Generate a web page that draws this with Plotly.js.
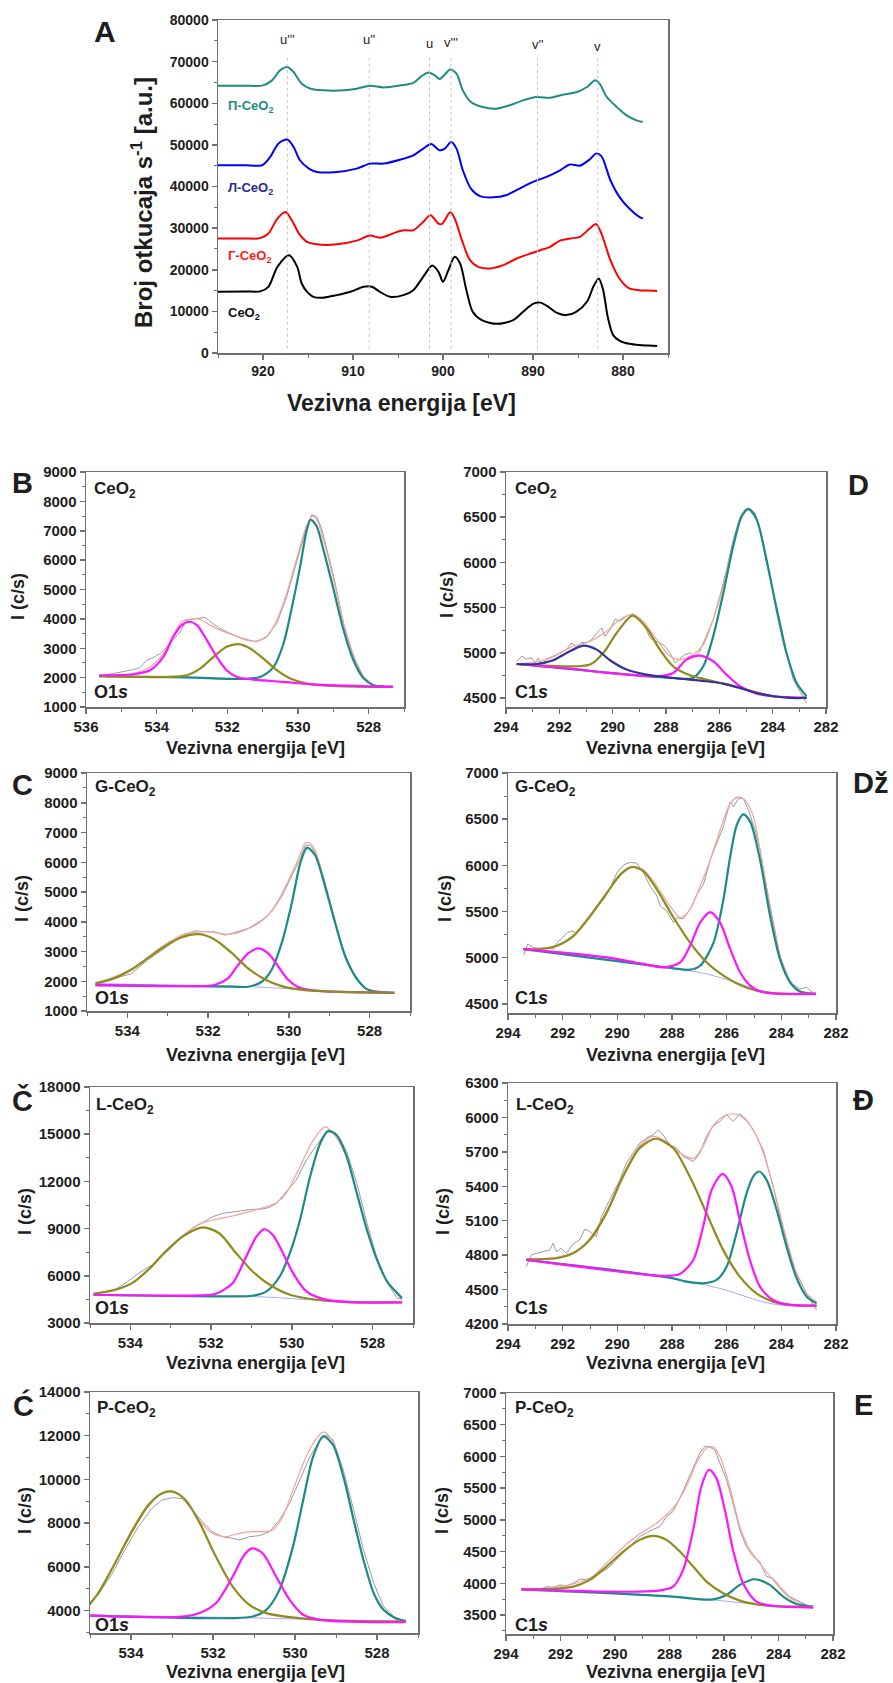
<!DOCTYPE html>
<html><head><meta charset="utf-8">
<script src="https://cdn.plot.ly/plotly-3.0.1.min.js"></script>
<style>html,body{margin:0;padding:0;background:#fff}#chart{width:893px;height:1683px}</style>
</head><body><div id="chart"></div>
<script>
// ---------- Panel A: Ce3d survey ----------
const aE_ceo2=[925,922,920.3,919.4,918.4,917.1,916.2,915.7,915.1,914.4,913.3,911.8,910.3,908.8,907.9,907,905.9,904.4,903.3,902.2,901.2,900.5,900,899.4,898.7,898.1,897.4,896.7,895.7,894,892.2,891.1,890,889.2,888.3,887.4,886.3,885.2,884,883.3,882.7,882.2,881.7,881.1,880.4,879.3,878.2,877.2,876.2];
const aI_ceo2=[14700,14800,14800,15900,20700,23500,20700,16700,14700,13500,13300,13900,14700,15900,15900,14700,13500,13900,15100,18300,21000,19500,17100,19900,23100,21500,15100,9900,7900,7000,7900,9900,11800,12100,11100,9700,9100,9900,12300,15900,17900,15100,8700,4300,3000,2200,1900,1800,1700];
const aE_g=[925,922,920.3,919.4,918.4,917.5,916.8,916,915.1,914,911.8,909.6,908.1,907,905.1,904.4,903.3,902.2,901.4,900.5,900.1,899.2,898.7,897.9,897,896.1,894.8,893.3,891.8,890.3,889.2,888.1,887,885.9,884.8,883.7,883,882.4,881.4,880.4,879.3,878.2,877.2,876.2];
const aI_g=[27500,27500,27600,28700,32300,33900,31900,28700,26700,26100,26100,27000,28200,27700,29100,29500,29500,31500,33100,31100,31000,33800,32300,27100,22300,20700,20300,21100,22700,23900,24700,25500,27000,27500,27900,29900,31000,28700,22300,17900,15500,15100,15000,14900];
const aE_l=[925,922,920.1,919.2,918.3,917.3,916.6,915.9,914.9,914,911.8,909.6,908.1,906.6,904.7,903.3,902.2,901.3,900.4,899.8,899.1,898.5,897.8,896.9,895.9,894.4,893,891.5,890,888.5,887,885.9,884.8,883.7,883,882.4,881.4,880.4,879.3,878.2,877.8];
const aI_l=[45100,45100,45100,47100,50300,51300,49500,46300,44300,43500,43500,44300,45500,45500,46500,47500,49100,50200,48700,49100,50700,49100,43900,39500,37700,37400,37900,39500,41100,42300,43900,45300,45000,46500,47900,47300,41500,37500,34700,32700,32300];
const aE_p=[925,922,920,919,918.1,917.3,916.6,915.7,914.7,913.3,911,909.6,908.1,906.6,904.7,903.3,902.4,901.6,900.9,900.4,899.8,899.2,898.5,897.8,896.9,895.6,894.1,892.6,891.1,889.6,888.1,886.6,885.1,884,883.1,882.6,881.8,880.7,879.6,878.5,877.8];
const aI_p=[64200,64200,64300,65500,67900,68700,67500,64700,63500,63100,63100,63500,64200,63800,64300,64900,66500,67400,66700,65800,66900,68100,67100,63100,60300,59100,58700,59500,60700,61500,61300,62100,62700,63900,65500,64700,61500,59100,57100,55900,55500];
const peakE=[917.3,908.2,901.5,899.1,889.5,882.8];
const peakLabels=["u'''","u''","u","v'''","v''","v"];
const peakLabelY=[75200,75400,74400,74550,74000,73600];
const peakLineY=[1000,71700];
const seriesNames=["П-CeO<sub>2</sub>","Л-CeO<sub>2</sub>","Г-CeO<sub>2</sub>","CeO<sub>2</sub>"];
const seriesLabelE=[924.1,924.1,924.1,924.1];
const seriesLabelY=[59200,39600,23100,9500];

// ---------- B: O1s CeO2 ----------
const bRawE=[535.63,535.23,534.94,534.66,534.47,534.28,534.09,533.9,533.71,533.53,533.34,533.15,532.96,532.77,532.63,532.53,532.39,532.2,531.92,531.64,531.35,531.21,531.07,530.88,530.79,530.6,530.32,530.13,529.94,529.75,529.61,529.47,529.32,529.18,528.99,528.71,528.43,528.14,527.86,527.31];
const bRawI=[2047,2138,2229,2274,2343,2593,2684,2821,3048,3276,3560,3959,3993,4016,4050,3959,3822,3674,3503,3367,3276,3219,3276,3412,3560,3845,4755,5552,6348,7145,7543,7486,7031,6348,5438,3845,2707,2024,1740,1683];
const bEnvE=[535.63,534.66,534.19,533.81,533.53,533.29,533.05,532.77,532.49,532.2,531.83,531.45,531.17,530.88,530.6,530.32,530.13,529.94,529.75,529.61,529.47,529.28,528.99,528.71,528.43,528.14,527.86,527.31];
const bEnvI=[2070,2138,2366,2821,3446,3902,3993,3980,3788,3617,3446,3276,3253,3390,3959,4869,5666,6462,7202,7486,7373,6690,5324,3845,2764,2024,1740,1683];
const bBgE=[535.63,533.2,531.83,530.88,529.94,528.99,528.05,527.31];
const bBgI=[2058,2024,1967,1910,1796,1706,1683,1683];
const bTealE=[535.63,533.2,531.54,531.07,530.69,530.41,530.13,529.94,529.75,529.64,529.47,529.28,528.99,528.71,528.43,528.14,527.86,527.31];
const bTealI=[2047,2010,1956,2024,2366,3162,4641,5780,7031,7373,7145,6349,4983,3617,2593,1967,1740,1683];
const bOliveE=[535.63,533.71,533.15,532.77,532.39,532.02,531.68,531.35,530.98,530.6,530.22,529.75,528.99,527.31];
const bOliveI=[2047,2024,2081,2309,2707,3048,3140,2991,2650,2252,1967,1796,1717,1683];
const bMagE=[535.63,534.66,534.19,533.81,533.53,533.29,533.07,532.86,532.58,532.3,532.02,531.73,531.26,530.41,529.47,527.31];
const bMagI=[2081,2115,2252,2707,3390,3788,3902,3788,3276,2707,2252,2024,1933,1853,1762,1683];

// ---------- D: C1s CeO2 ----------
const dRawE=[293.6,293.41,293.23,293.04,292.91,292.79,292.66,292.48,292.23,291.98,291.73,291.54,291.35,291.16,290.98,290.79,290.6,290.41,290.29,290.1,289.91,289.73,289.48,289.23,288.98,288.79,288.6,288.41,288.23,288.04,287.85,287.66,287.48,287.29,287.1,286.91,286.73,286.48,286.23,285.98,285.73,285.48,285.23,285.04,284.85,284.66,284.48,284.23,283.98,283.73,283.48,283.23,282.98,282.73];
const dRawI=[4906,4961,4932,4943,4887,4943,4869,4924,4954,4998,5035,5109,5064,5116,5109,5146,5219,5274,5182,5256,5374,5348,5404,5433,5367,5293,5164,5127,5109,5072,4998,4887,4932,4980,4998,4954,5016,5182,5367,5625,5920,6252,6491,6583,6591,6547,6362,5993,5662,5367,4998,4703,4574,4445];
const dEnvE=[293.6,292.73,292.1,291.48,290.85,290.23,289.73,289.25,288.85,288.35,287.85,287.48,286.98,286.6,286.23,285.85,285.48,285.16,284.91,284.6,284.23,283.85,283.48,283.1,282.73];
const dEnvI=[4876,4906,4980,5072,5127,5238,5367,5422,5348,5146,4961,4924,4980,5090,5367,5735,6215,6528,6602,6491,6030,5477,4998,4666,4519];
const dBgE=[293.6,291.48,290.23,288.98,287.73,286.48,285.85,285.23,284.6,283.98,283.35,282.73];
const dBgI=[4876,4821,4777,4747,4721,4685,4659,4611,4555,4519,4500,4500];
const dTealE=[293.6,288.98,287.73,287.23,286.98,286.6,286.23,285.85,285.48,285.16,284.91,284.6,284.23,283.85,283.48,283.1,282.73];
const dTealI=[4876,4747,4721,4712,4721,4850,5182,5662,6178,6510,6590,6473,6030,5477,4998,4666,4519];
const dOliveE=[293.6,291.48,290.85,290.35,289.85,289.25,288.73,288.23,287.73,287.1,286.48,285.23,283.98,282.73];
const dOliveI=[4876,4850,4869,4998,5219,5411,5274,5035,4850,4751,4703,4611,4519,4500];
const dMagE=[293.6,291.48,290.23,288.98,288.35,287.73,287.23,286.73,286.23,285.73,285.23,284.6,283.98,282.73];
const dMagI=[4876,4821,4777,4747,4740,4777,4924,4968,4906,4758,4629,4548,4519,4500];
const dNavyE=[293.6,292.85,292.23,291.73,291.1,290.6,290.1,289.48,288.73,287.73,286.48,285.85,285.23,284.6,283.98,283.35,282.73];
const dNavyI=[4876,4876,4917,4998,5079,5035,4917,4814,4758,4721,4685,4659,4611,4555,4519,4500,4500];

// ---------- C: O1s G-CeO2 ----------
const cRawE=[534.79,534.33,533.92,533.5,533.09,532.67,532.34,532.09,531.84,531.59,531.42,531.26,531.01,530.67,530.43,530.18,529.93,529.72,529.59,529.47,529.35,529.1,528.85,528.6,528.35,528.1,527.39];
const cRawI=[1950,2096,2241,2711,3103,3494,3696,3662,3662,3551,3606,3662,3774,4054,4334,4837,5509,6124,6572,6572,6348,5285,3942,2823,2096,1727,1592];
const cEnvE=[534.79,533.92,533.09,532.59,532.25,531.92,531.59,531.42,531.09,530.76,530.51,530.26,530.01,529.76,529.59,529.47,529.35,529.1,528.85,528.6,528.35,528.1,527.39];
const cEnvI=[1928,2398,3215,3584,3662,3662,3584,3584,3718,3942,4222,4726,5397,6124,6650,6628,6404,5285,3998,2846,2152,1760,1614];
const cBgE=[534.79,533.09,531.42,530.59,529.76,528.93,528.1,527.39];
const cBgI=[1928,1872,1838,1794,1727,1648,1626,1614];
const cTealE=[534.79,531.42,531.01,530.67,530.43,530.18,529.93,529.72,529.55,529.35,529.1,528.85,528.6,528.35,528.1,527.77,527.39];
const cTealI=[1872,1816,1816,1984,2376,3271,4614,5956,6493,6236,5173,3942,2823,2152,1760,1626,1614];
const cOliveE=[534.79,534.33,533.92,533.5,533.09,532.67,532.21,531.84,531.42,531.01,530.59,530.18,529.76,528.93,527.39];
const cOliveI=[1928,2096,2376,2767,3159,3472,3584,3405,2957,2431,2062,1838,1727,1648,1614];
const cMagE=[534.79,532.25,531.84,531.51,531.26,531.01,530.76,530.51,530.26,530.01,529.76,529.35,527.39];
const cMagI=[1872,1838,1872,2096,2543,2935,3103,2935,2487,2040,1794,1682,1614];

// ---------- Dž: C1s G-CeO2 ----------
const dzRawE=[293.43,293.28,293.06,292.82,292.57,292.33,292.21,292.06,291.84,291.66,291.48,291.23,290.99,290.75,290.5,290.26,290.02,289.77,289.53,289.29,289.04,288.8,288.55,288.43,288.19,287.94,287.82,287.58,287.34,287.09,286.85,286.6,286.36,286.12,285.87,285.75,285.57,285.39,285.2,284.96,284.78,284.41,284.05,283.68,283.32,283.07,282.73];
const dzRawI=[5027,5145,5110,5099,5110,5092,5163,5199,5271,5289,5264,5379,5443,5558,5630,5755,5917,6006,6031,6024,5917,5773,5666,5558,5504,5379,5432,5422,5522,5684,5791,6060,6240,6419,6688,6634,6724,6724,6598,6383,6168,5558,5020,4733,4661,4679,4589];
const dzEnvE=[293.43,292.21,291.6,290.99,290.38,289.89,289.47,289.04,288.55,288.07,287.7,287.34,286.97,286.6,286.24,285.87,285.57,285.33,285.02,284.78,284.41,284.05,283.68,283.32,282.73];
const dzEnvI=[5092,5128,5242,5468,5709,5910,5988,5953,5773,5558,5432,5522,5773,6060,6383,6670,6742,6706,6527,6168,5522,5020,4751,4643,4607];
const dzBgE=[293.43,291.6,290.38,289.16,287.94,286.73,285.75,284.9,284.29,282.73];
const dzBgI=[5092,5049,5002,4937,4884,4823,4740,4654,4615,4607];
const dzTealE=[293.43,289.16,287.94,287.34,286.97,286.48,286.12,285.87,285.63,285.39,285.14,284.78,284.41,284.05,283.68,283.32,282.73];
const dzTealI=[5092,4930,4884,4869,4912,5163,5630,6096,6437,6552,6473,6060,5450,4984,4733,4633,4607];
const dzOliveE=[293.43,292.82,292.21,291.6,290.99,290.38,289.89,289.47,289.04,288.55,287.94,287.34,286.73,286.12,285.51,284.9,284.29,282.73];
const dzOliveI=[5092,5092,5128,5235,5450,5701,5899,5981,5935,5737,5432,5163,4948,4805,4704,4643,4615,4607];
const dzMagE=[293.43,290.38,289.16,288.31,287.7,287.34,286.97,286.6,286.24,285.87,285.51,285.14,284.66,282.73];
const dzMagI=[5092,5002,4937,4894,4948,5128,5379,5493,5379,5092,4841,4697,4625,4607];

// ---------- Č: O1s L-CeO2 ----------
const chRawE=[534.91,534.46,534.12,533.79,533.46,533.13,532.79,532.46,532.21,531.96,531.71,531.47,531.22,530.97,530.72,530.55,530.38,530.14,529.89,529.64,529.39,529.14,528.97,528.81,528.64,528.39,528.14,527.89,527.64,527.39,527.27];
const chRawI=[4857,5005,5533,6168,6696,7436,8280,9020,9379,9759,9971,10076,10140,10224,10245,10351,10605,11344,12084,13351,14302,15148,15084,14725,13880,11872,9337,7118,5533,4582,4477];
const chEnvE=[534.91,533.96,533.13,532.63,532.3,531.88,531.47,531.05,530.63,530.38,530.14,529.8,529.47,529.18,528.97,528.64,528.39,528.14,527.89,527.64,527.27];
const chEnvI=[4857,5533,7541,8703,9294,9590,9801,10076,10393,10647,11238,12929,14619,15464,15042,13563,11238,8914,7012,5639,4477];
const chBgE=[534.91,533.13,531.47,530.63,529.8,528.97,528.14,527.27];
const chBgI=[4796,4752,4689,4646,4519,4371,4307,4307];
const chTealE=[534.91,531.47,530.97,530.63,530.3,530.05,529.8,529.55,529.3,529.1,528.89,528.64,528.39,528.14,527.89,527.64,527.39,527.27];
const chTealI=[4796,4689,4731,5005,5956,7436,9548,12295,14408,15211,14936,13563,11238,8914,7012,5639,4900,4582];
const chOliveE=[534.91,534.37,533.96,533.54,533.13,532.71,532.21,531.8,531.38,530.97,530.55,530.05,529.39,528.56,527.27];
const chOliveI=[4857,5111,5533,6421,7541,8491,9083,8703,7436,6273,5428,4796,4477,4329,4307];
const chMagE=[534.91,532.3,531.88,531.47,531.13,530.88,530.69,530.47,530.22,529.97,529.64,529.22,528.56,527.27];
const chMagI=[4796,4752,4857,5533,7224,8491,8956,8597,7436,6168,5005,4519,4329,4307];

// ---------- Đ: C1s L-CeO2 ----------
const djRawE=[293.33,293.15,292.96,292.72,292.47,292.35,292.23,292.05,291.86,291.62,291.38,291.19,291.01,290.77,290.58,290.4,290.15,289.91,289.67,289.42,289.18,288.93,288.69,288.51,288.33,288.08,287.83,287.59,287.22,286.98,286.74,286.51,286.25,286.0,285.76,285.52,285.27,284.97,284.66,284.3,283.93,283.56,283.2,282.95,282.71];
const djRawI=[4700,4802,4816,4831,4846,4904,4831,4860,4816,4898,4933,5026,5006,4962,5136,5224,5340,5456,5602,5689,5776,5820,5849,5893,5849,5762,5733,5660,5616,5689,5835,5922,5965,6024,5965,6032,5980,5864,5718,5398,5020,4700,4525,4409,4322];
const djEnvE=[293.33,292.23,291.62,291.01,290.4,289.79,289.18,288.69,288.2,287.71,287.22,286.86,286.51,286.13,285.76,285.39,285.03,284.66,284.3,283.93,283.56,283.2,282.71];
const djEnvI=[4764,4781,4822,4947,5180,5500,5753,5835,5791,5689,5645,5747,5922,6009,6032,5995,5893,5689,5398,5049,4729,4496,4395];
const djBgE=[293.33,291.62,289.79,288.57,287.35,286.13,284.91,284.3,283.68,282.71];
const djBgI=[4758,4715,4665,4619,4569,4502,4409,4374,4360,4360];
const djTealE=[293.33,287.96,287.47,286.86,286.37,286.0,285.64,285.27,285.03,284.81,284.54,284.17,283.81,283.44,283.07,282.71];
const djTealI=[4758,4598,4569,4555,4584,4700,4991,5340,5485,5529,5456,5195,4875,4598,4438,4380];
const djOliveE=[293.33,292.23,291.62,291.01,290.4,289.79,289.18,288.59,287.96,287.35,286.74,286.13,285.52,284.91,284.3,283.68,282.71];
const djOliveI=[4764,4773,4816,4933,5166,5485,5733,5814,5733,5485,5166,4846,4613,4467,4395,4366,4360];
const djMagE=[293.33,289.18,288.2,287.71,287.22,286.86,286.55,286.15,285.82,285.52,285.15,284.78,284.3,283.68,282.71];
const djMagI=[4758,4636,4619,4636,4758,5049,5369,5509,5398,5107,4758,4525,4409,4366,4360];

// ---------- Ć: O1s P-CeO2 ----------
const cjRawE=[535.05,534.8,534.48,534.15,533.82,533.49,533.25,533.0,532.75,532.51,532.26,532.02,531.77,531.52,531.36,531.11,530.87,530.62,530.38,530.13,529.89,529.64,529.39,529.23,529.07,528.82,528.57,528.33,528.08,527.84,527.59,527.3];
const cjRawI=[4305,4716,5629,6771,7836,8673,9054,9160,9130,8597,8064,7608,7379,7303,7227,7379,7425,7608,8140,8901,9967,11032,11793,12021,11793,10423,8597,6771,5249,4183,3726,3498];
const cjEnvE=[535.05,534.8,534.39,533.98,533.57,533.25,532.98,532.67,532.34,532.02,531.69,531.36,531.03,530.79,530.54,530.3,530.05,529.8,529.56,529.31,529.07,528.82,528.57,528.33,528.08,527.84,527.55,527.3];
const cjEnvI=[4183,4792,6162,7684,8901,9358,9464,9054,8140,7532,7379,7532,7608,7608,7684,8293,9510,10728,11641,12174,11717,10195,8216,6314,4792,4031,3650,3529];
const cjBgE=[535.05,533.16,531.52,529.89,529.07,528.25,527.3];
const cjBgI=[3772,3726,3681,3605,3544,3498,3498];
const cjTealE=[535.05,531.52,531.03,530.7,530.38,530.05,529.8,529.56,529.31,529.07,528.82,528.57,528.33,528.08,527.84,527.55,527.3];
const cjTealI=[3772,3650,3726,4031,4944,6922,9054,11032,11976,11565,10119,8140,6314,4792,4031,3650,3529];
const cjOliveE=[535.05,534.8,534.39,533.98,533.57,533.25,532.98,532.67,532.34,531.93,531.52,531.11,530.7,530.13,529.07,527.3];
const cjOliveI=[4183,4792,6162,7608,8825,9358,9434,9054,8064,6466,5096,4259,3878,3696,3544,3498];
const cjMagE=[535.05,532.75,532.34,531.93,531.52,531.24,531.05,530.79,530.46,530.13,529.8,529.39,527.3];
const cjMagI=[3772,3726,3878,4335,5553,6542,6847,6618,5553,4487,3803,3574,3468];

// ---------- E: C1s P-CeO2 ----------
const eRawE=[293.43,293.24,293.0,292.75,292.51,292.26,292.02,291.78,291.53,291.29,291.04,290.8,290.55,290.31,290.07,289.82,289.58,289.33,289.09,288.84,288.6,288.35,288.11,287.87,287.62,287.38,287.13,286.89,286.7,286.52,286.34,286.15,285.91,285.67,285.42,285.18,284.93,284.69,284.44,284.2,283.95,283.59,283.22,282.98,282.73];
const eRawI=[3921,3884,3921,3905,3947,3937,3974,3958,4000,4063,4063,4105,4168,4221,4316,4421,4526,4632,4737,4800,4842,4895,5053,5132,5342,5579,5842,6053,6158,6147,6105,5895,5632,5263,4842,4579,4421,4342,4105,4079,3947,3790,3711,3658,3605];
const eEnvE=[293.43,292.14,290.92,290.31,289.7,289.09,288.48,287.87,287.38,287.01,286.64,286.4,286.15,285.79,285.42,285.05,284.69,284.2,283.71,283.22,282.73];
const eEnvI=[3916,3937,4079,4316,4568,4779,4947,5184,5526,5895,6132,6147,6000,5526,4895,4526,4316,4053,3816,3684,3632];
const eBgE=[293.43,291.53,289.7,287.87,286.64,285.42,284.2,282.73];
const eBgI=[3905,3884,3842,3790,3747,3695,3642,3621];
const eTealE=[293.43,287.87,286.89,286.4,285.91,285.42,284.87,284.32,283.83,283.34,282.73];
const eTealI=[3905,3790,3747,3747,3816,3974,4063,3974,3790,3674,3632];
const eOliveE=[293.43,292.14,291.53,290.92,290.31,289.7,289.09,288.6,288.11,287.62,287.13,286.64,286.03,285.42,284.81,284.2,282.73];
const eOliveI=[3905,3916,3947,4053,4263,4500,4684,4747,4684,4500,4263,4026,3842,3726,3668,3642,3621];
const eMagE=[293.43,288.48,287.87,287.5,287.13,286.83,286.55,286.28,285.97,285.67,285.3,284.81,284.2,282.73];
const eMagI=[3905,3879,3947,4211,4842,5526,5790,5658,5158,4526,4000,3711,3642,3621];

// ---------- layout helpers ----------
const W=893,H=1683;
const FONT="Liberation Sans, Arial, Helvetica, sans-serif";
const C_RAW='#9a9a9a',C_ENV='#f3a39b',C_BG='#a8a8ff',C_TEAL='#1c8b88',C_OLIVE='#8e8c1c',C_MAG='#ff14ff',C_NAVY='#33339a';
function xd(a,b){return [a/W,b/W];}
function yd(top,bot){return [1-bot/H,1-top/H];}
function axis(dom,range,dtick,tick0,minor,anchor,fs){
  return {domain:dom,range:range,autorange:false,tickmode:'linear',dtick:dtick,tick0:tick0,tickformat:'d',
    showline:true,mirror:true,linecolor:'#707070',linewidth:1.5,ticks:'outside',ticklen:5,tickwidth:1.5,tickcolor:'#707070',
    minor:{dtick:minor,ticks:'outside',ticklen:3,tickwidth:1,tickcolor:'#707070'},
    showgrid:false,zeroline:false,exponentformat:'none',separatethousands:false,anchor:anchor,fixedrange:true,
    tickfont:{family:FONT,size:fs,color:'#1e1e1e',weight:'bold'}};
}
const traces=[];
function line(x,y,n,color,width,shape){
  traces.push({type:'scatter',mode:'lines',x:x,y:y,xaxis:'x'+(n===1?'':n),yaxis:'y'+(n===1?'':n),
    line:{color:color,width:width,shape:shape||'linear',smoothing:0.8},hoverinfo:'skip'});
}
const ann=[];
function A(text,x,y,size,o){
  o=o||{};
  ann.push({xref:'paper',yref:'paper',x:x/W,y:1-y/H,text:text,showarrow:false,textangle:o.angle||0,
    xanchor:o.xa||'center',yanchor:o.ya||'middle',
    font:{family:FONT,size:size,color:o.color||'#1e1e1e',weight:o.bold===false?'normal':'bold'}});
}

// ---------- Panel A traces ----------
line(aE_ceo2,aI_ceo2,1,'#000000',2,'spline');
line(aE_g,aI_g,1,'#ff0000',2,'spline');
line(aE_l,aI_l,1,'#0000ff',2,'spline');
line(aE_p,aI_p,1,'#1e8c84',2,'spline');
const shapes=peakE.map(e=>({type:'line',xref:'x',yref:'y',x0:e,x1:e,y0:peakLineY[0],y1:peakLineY[1],line:{color:'#c4c4c4',width:1,dash:'dot'}}));
peakE.forEach((e,i)=>ann.push({xref:'x',yref:'y',x:e,y:peakLabelY[i],text:peakLabels[i],showarrow:false,
  font:{family:FONT,size:13,color:'#222'},xanchor:'center',yanchor:'middle'}));
const seriesColors=['#1e8c84','#2b2b90','#ff2020','#111111'];
seriesNames.forEach((s,i)=>ann.push({xref:'x',yref:'y',x:seriesLabelE[i],y:seriesLabelY[i],text:s,showarrow:false,
  font:{family:FONT,size:13,color:seriesColors[i],weight:'bold'},xanchor:'left',yanchor:'middle'}));

// ---------- fit panels ----------
const fits=[
 [2,bRawE,bRawI,bEnvE,bEnvI,bBgE,bBgI,[[bTealE,bTealI,C_TEAL],[bOliveE,bOliveI,C_OLIVE],[bMagE,bMagI,C_MAG]]],
 [3,dRawE,dRawI,dEnvE,dEnvI,dBgE,dBgI,[[dTealE,dTealI,C_TEAL],[dOliveE,dOliveI,C_OLIVE],[dMagE,dMagI,C_MAG],[dNavyE,dNavyI,C_NAVY]]],
 [4,cRawE,cRawI,cEnvE,cEnvI,cBgE,cBgI,[[cTealE,cTealI,C_TEAL],[cMagE,cMagI,C_MAG],[cOliveE,cOliveI,C_OLIVE]]],
 [5,dzRawE,dzRawI,dzEnvE,dzEnvI,dzBgE,dzBgI,[[dzTealE,dzTealI,C_TEAL],[dzOliveE,dzOliveI,C_OLIVE],[dzMagE,dzMagI,C_MAG]]],
 [6,chRawE,chRawI,chEnvE,chEnvI,chBgE,chBgI,[[chTealE,chTealI,C_TEAL],[chOliveE,chOliveI,C_OLIVE],[chMagE,chMagI,C_MAG]]],
 [7,djRawE,djRawI,djEnvE,djEnvI,djBgE,djBgI,[[djTealE,djTealI,C_TEAL],[djOliveE,djOliveI,C_OLIVE],[djMagE,djMagI,C_MAG]]],
 [8,cjRawE,cjRawI,cjEnvE,cjEnvI,cjBgE,cjBgI,[[cjTealE,cjTealI,C_TEAL],[cjOliveE,cjOliveI,C_OLIVE],[cjMagE,cjMagI,C_MAG]]],
 [9,eRawE,eRawI,eEnvE,eEnvI,eBgE,eBgI,[[eTealE,eTealI,C_TEAL],[eOliveE,eOliveI,C_OLIVE],[eMagE,eMagI,C_MAG]]]
];
fits.forEach(f=>{
  const n=f[0];
  line(f[1],f[2],n,C_RAW,1,'linear');
  line(f[3],f[4],n,C_ENV,1.2,'spline');
  line(f[5],f[6],n,C_BG,1,'spline');
  f[7].forEach(c=>line(c[0],c[1],n,c[2],2.2,'spline'));
});

// ---------- axes ----------
const layout={width:W,height:H,margin:{l:0,r:0,t:0,b:0},showlegend:false,paper_bgcolor:'#fff',plot_bgcolor:'#fff',
  separators:'.',
  shapes:shapes,annotations:ann,
  xaxis:axis(xd(218,668),[925,875],10,0,5,'y',14), yaxis:axis(yd(20,353),[0,80000],10000,0,5000,'x',14),
  xaxis2:axis(xd(86,404),[536,527],2,0,1,'y2',15), yaxis2:axis(yd(472,707),[1000,9000],1000,0,500,'x2',15),
  xaxis3:axis(xd(506,826),[294,282],2,0,1,'y3',15), yaxis3:axis(yd(472,707),[4400,7000],500,0,250,'x3',15),
  xaxis4:axis(xd(87,410),[535,527],2,0,1,'y4',15), yaxis4:axis(yd(773,1011),[1000,9000],1000,0,500,'x4',15),
  xaxis5:axis(xd(508,836),[294,282],2,0,1,'y5',15), yaxis5:axis(yd(773,1013),[4400,7000],500,0,250,'x5',15),
  xaxis6:axis(xd(90,413),[535,527],2,0,1,'y6',15), yaxis6:axis(yd(1087,1323),[3000,18000],3000,0,1500,'x6',15),
  xaxis7:axis(xd(508,836),[294,282],2,0,1,'y7',15), yaxis7:axis(yd(1083,1324),[4200,6300],300,4200,150,'x7',15),
  xaxis8:axis(xd(90,418),[535,527],2,0,1,'y8',15), yaxis8:axis(yd(1392,1633),[2970,14000],2000,0,1000,'x8',15),
  xaxis9:axis(xd(506,833),[294,282],2,0,1,'y9',15), yaxis9:axis(yd(1393,1634),[3200,7000],500,0,250,'x9',15)
};

// ---------- text ----------
A('A',105,32,30);
A('Broj otkucaja s<sup>-1</sup> [a.u.]',142,203,24,{angle:-90});
A('Vezivna energija [eV]',401,403,23);
const XT='Vezivna energija [eV]', YT='I (c/s)';
[[255,748],[675,748],[255,1055],[675,1055],[255,1363],[675,1363],[255,1672],[675,1672]].forEach(p=>A(XT,p[0],p[1],18));
[[18,597],[447,595],[22,899],[445,899],[25,1212],[443,1212],[25,1511],[442,1511]].forEach(p=>A(YT,p[0],p[1],18,{angle:-90}));
[['B',22,483],['D',858,485],['C',22,785],['Dž',870,783],['Č',22,1100],['Đ',863,1100],['Ć',23,1405],['E',863,1405]].forEach(p=>A(p[0],p[1],p[2],29));
[['CeO<sub>2</sub>',92,490],['CeO<sub>2</sub>',513,490],['G-CeO<sub>2</sub>',93,788],['G-CeO<sub>2</sub>',513,788],
 ['L-CeO<sub>2</sub>',94,1106],['L-CeO<sub>2</sub>',514,1106],['P-CeO<sub>2</sub>',95,1409],['P-CeO<sub>2</sub>',513,1409]].forEach(p=>A(p[0],p[1],p[2],17,{xa:'left'}));
[['O1<i>s</i>',92,692],['C1<i>s</i>',513,692],['O1<i>s</i>',93,998],['C1<i>s</i>',513,998],
 ['O1<i>s</i>',93,1308],['C1<i>s</i>',513,1308],['O1<i>s</i>',93,1625],['C1<i>s</i>',513,1625]].forEach(p=>A(p[0],p[1],p[2],18,{xa:'left'}));

Plotly.newPlot('chart',traces,layout,{displayModeBar:false,staticPlot:true});
</script></body></html>
